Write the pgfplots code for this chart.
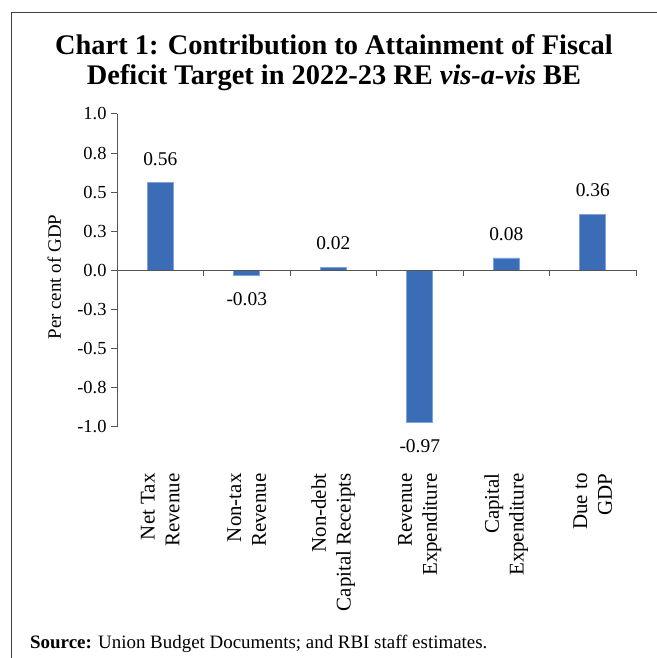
\documentclass[border=0pt]{standalone}
\usepackage{fontspec}
\setmainfont{Liberation Serif}
\usepackage{pgfplots}
\usepackage{pgfplotstable}
\pgfplotsset{compat=1.18}
\definecolor{barblue}{RGB}{58,109,181}
\definecolor{baredge}{RGB}{125,163,216}
\definecolor{axgray}{RGB}{85,85,85}
\pgfplotstableread{
x y label
0 0.56 0.56
1 -0.03 -0.03
2 0.02 0.02
3 -0.97 -0.97
4 0.08 0.08
5 0.36 0.36
}\datatable
\begin{document}
\begin{tikzpicture}
\path[use as bounding box] (0,0) rectangle (657bp,658bp);
\draw[color=black!75, line width=1.2bp] (11.5bp,0) -- (11.5bp,645.5bp) -- (657bp,645.5bp);
\node[font=\fontsize{28.5}{33}\selectfont\bfseries, anchor=base, inner sep=0pt] at (334bp,603bp) {Chart 1: Contribution to Attainment of Fiscal};
\node[font=\fontsize{28.5}{33}\selectfont\bfseries, anchor=base, inner sep=0pt] at (334bp,573bp) {Deficit Target in 2022-23 RE \textit{vis-a-vis} BE};
\node[font=\fontsize{19}{22}\selectfont, anchor=base west, inner sep=0pt] at (30bp,10bp) {\textbf{Source:} Union Budget Documents; and RBI staff estimates.};
\begin{axis}[
  at={(117bp,231bp)}, anchor=south west, scale only axis,
  width=519bp, height=313bp,
  xmin=-0.5, xmax=5.5, ymin=-1, ymax=1,
  clip=false,
  axis x line*=bottom, x axis line style={draw=none},
  axis y line*=left, y axis line style={axgray, line width=1bp},
  tick align=outside, major tick length=6bp,
  ytick={-1,-0.75,-0.5,-0.25,0,0.25,0.5,0.75,1},
  yticklabels={-1.0,-0.8,-0.5,-0.3,0.0,0.3,0.5,0.8,1.0},
  ytick style={axgray, line width=1bp},
  yticklabel style={font=\fontsize{18.5}{21}\selectfont, xshift=-1bp},
  xtick={0,1,2,3,4,5},
  xtick style={draw=none},
  xticklabels={{Net Tax\\Revenue},{Non-tax\\Revenue},{Non-debt\\Capital Receipts},{Revenue\\Expenditure},{Capital\\Expenditure},{Due to\\GDP}},
  xticklabel style={rotate=90, anchor=east, align=right, font=\fontsize{21}{25}\selectfont},
  xticklabel shift=37bp,
  ylabel={Per cent of GDP},
  ylabel style={at={(axis description cs:-0.121,0.479)}, anchor=center, font=\fontsize{19}{22}\selectfont},
  ybar, bar width=26bp,
  nodes near coords, point meta=explicit symbolic,
  nodes near coords style={font=\fontsize{19.5}{22}\selectfont, inner sep=17bp,
    /utils/exec={\ifdim\pgfplotspointmeta pt<0pt \gdef\myanchor{north}\else\gdef\myanchor{south}\fi},
    anchor=\myanchor},
]
\addplot[fill=barblue, draw=baredge, line width=0.8bp] table[x=x,y=y,meta=label]{\datatable};
\draw[axgray, line width=1bp] (axis cs:-0.5,0) -- (axis cs:5.5,0);
\pgfplotsinvokeforeach{0.5,1.5,2.5,3.5,4.5,5.5}{
  \draw[axgray, line width=1bp] (axis cs:#1,0) -- ([yshift=-6bp]axis cs:#1,0);
}
\end{axis}
\end{tikzpicture}
\end{document}
